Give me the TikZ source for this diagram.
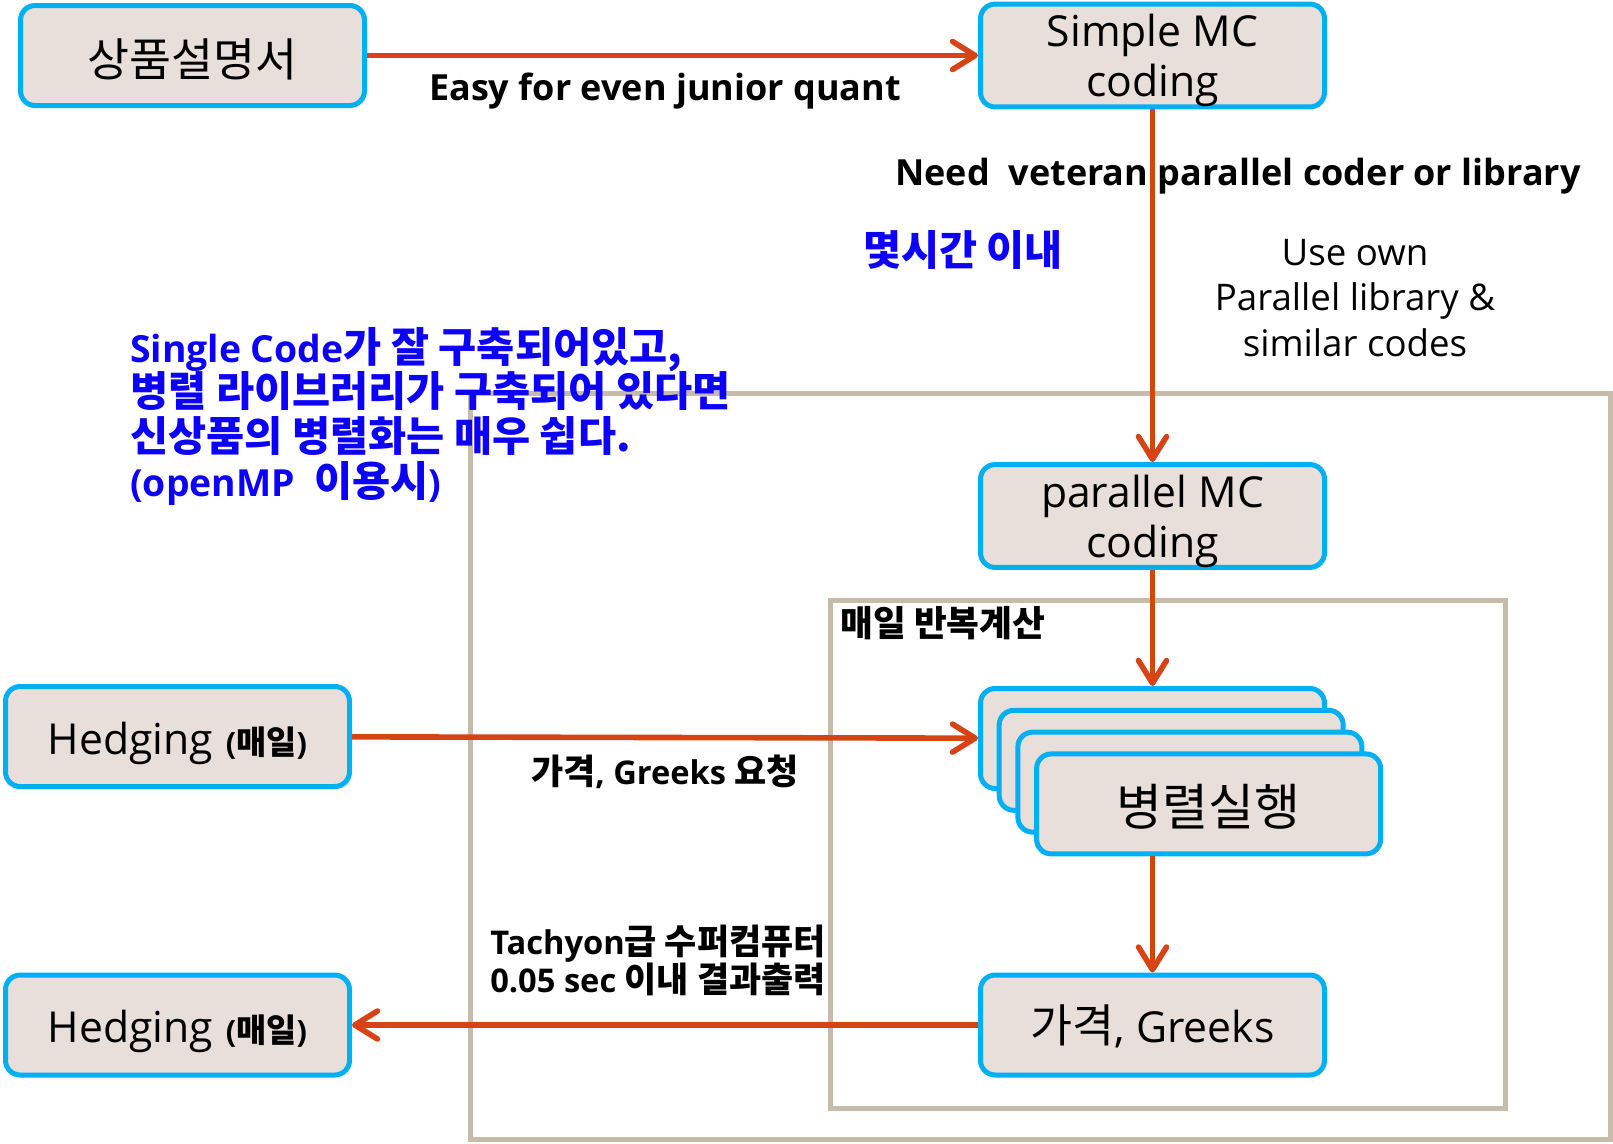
\documentclass[tikz,border=0pt]{standalone}
\usepackage{fontspec}
\setmainfont{Open Sans}
\newfontfamily\kr{Noto Sans CJK KR}[Scale=1.07]
\newfontfamily\krwide{Noto Sans CJK KR}[Scale=1.11]
\usetikzlibrary{arrows.meta}
\definecolor{boxfill}{RGB}{232,222,218}
\definecolor{boxline}{RGB}{0,176,240}
\definecolor{flow}{RGB}{214,68,22}
\definecolor{frametan}{RGB}{199,188,170}
\definecolor{note}{RGB}{12,0,250}
\newcommand\K[1]{{\kr #1}}
\newcommand\KW[1]{{\krwide #1}}
% strut that pushes two-line box text slightly downward
\newcommand\toppad{\rule{0pt}{32pt}}

\begin{document}
\begin{tikzpicture}[x=0.75pt,y=-0.75pt,
  card/.style={draw=boxline, line width=3.75pt, fill=boxfill, rounded corners=11pt,
    minimum width=258pt, minimum height=75pt, inner sep=0pt, align=center,
    font=\fontsize{32}{37.5}\selectfont},
  oneline/.style={text height=#1, text depth=0pt},
  flowarrow/.style={draw=flow, line width=4.2pt,
    -{Straight Barb[length=17pt,width=21pt,line cap=round,line join=round]}},
  lbl/.style={font=\bfseries\fontsize{25}{28.5}\selectfont, inner sep=0pt},
  bluenote/.style={font=\bfseries\fontsize{28}{33.5}\selectfont, text=note, inner sep=0pt},
  plain/.style={font=\fontsize{27.5}{34}\selectfont, inner sep=0pt, align=center},
  framebox/.style={draw=frametan, line width=3.75pt}
]
\useasboundingbox (0,0) rectangle (1613,1143);

% grouping frames
\draw[framebox] (470,393) rectangle (1610,1139);
\draw[framebox] (830,600) rectangle (1505,1108);

% boxes
\node[card, oneline=31pt] (spec) at (192.5,55.5) {\K{상품설명서}};
\node[card] (simple) at (1152.5,55.5) {\toppad Simple MC\\coding};
\node[card] (par) at (1152.5,516) {\toppad parallel MC\\coding};
\node[card] (run1) at (1152.5,738.5) {};
\node[card] (run2) at (1171.2,760.3) {};
\node[card] (run3) at (1189.9,782.1) {};
\node[card, oneline=33pt, font=\fontsize{35}{37.5}\selectfont] (run4) at (1208.6,803.9) {\K{병렬실행}};
\node[card, oneline=26.6pt] (price) at (1152.5,1025) {\K{가격}, Greeks};
\node[card, oneline=26.6pt] (hedgeA) at (177.5,736.5)
  {Hedging\hspace{0.3em}{\bfseries\fontsize{23}{26}\selectfont(\K{매일})}};
\node[card, oneline=26.6pt] (hedgeB) at (177.5,1025)
  {Hedging\hspace{0.3em}{\bfseries\fontsize{23}{26}\selectfont(\K{매일})}};

% flow
\draw[flowarrow] (spec) -- (simple);
\draw[flowarrow] (simple) -- (par);
\draw[flowarrow] (par) -- (run1);
\draw[flowarrow] (hedgeA) -- (run1);
\draw[flowarrow] (price.north |- run4.south) -- (price.north);
\draw[flowarrow] (price) -- (hedgeB);

% labels
\node[lbl, font=\bfseries\fontsize{27}{28.5}\selectfont] (easy) at (665,91) {Easy for even junior quant};
\node[lbl, font=\bfseries\fontsize{27}{28.5}\selectfont] (need) at (1238,176) {Need\ \ veteran parallel coder or library};
\node[lbl, text=note, font=\bfseries\fontsize{29}{30}\selectfont] (hours) at (963,250) {\K{몇시간 이내}};
\node[plain] (own) at (1355,298) {Use own\\Parallel library \&\\similar codes};
\node[bluenote, anchor=north west, align=left] (single) at (130,327)
  {Single Code\KW{가 잘 구축되어있고,}\\
   \KW{병렬 라이브러리가 구축되어 있다면}\\
   \KW{신상품의 병렬화는 매우 쉽다.}\\
   (openMP\ \ \KW{이용시})};
\node[lbl, anchor=west] (daily) at (840,623) {\K{매일 반복계산}};
\node[lbl, font=\bfseries\fontsize{24.5}{28.5}\selectfont] (req) at (665,772) {\K{가격}, Greeks \K{요청}};
\node[lbl, anchor=north west, align=left, font=\bfseries\fontsize{24.5}{28.5}\selectfont] (tachyon) at (490,925)
  {Tachyon\K{급 수퍼컴퓨터}\\0.05 sec \K{이내 결과출력}};
\end{tikzpicture}
\end{document}
